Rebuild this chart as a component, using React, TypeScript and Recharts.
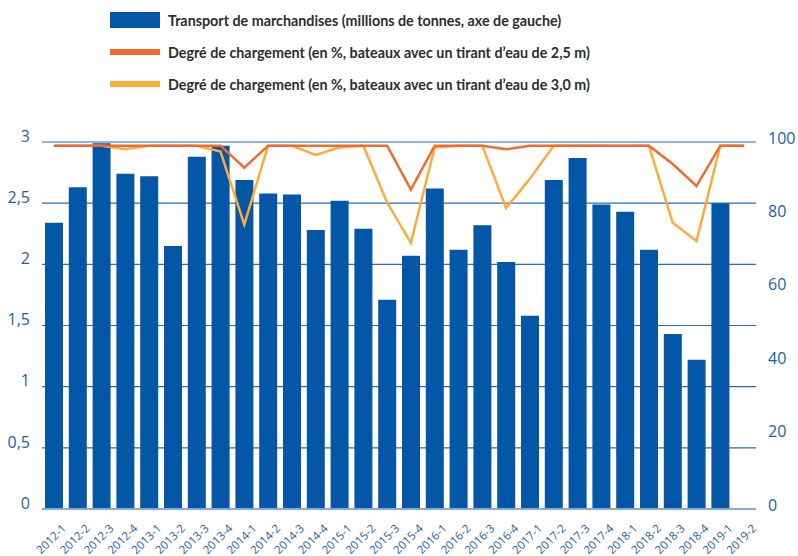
import React from 'react';
import { ComposedChart, Bar, Line, XAxis, YAxis, CartesianGrid } from 'recharts';

const quarters = [
  '2012-1', '2012-2', '2012-3', '2012-4',
  '2013-1', '2013-2', '2013-3', '2013-4',
  '2014-1', '2014-2', '2014-3', '2014-4',
  '2015-1', '2015-2', '2015-3', '2015-4',
  '2016-1', '2016-2', '2016-3', '2016-4',
  '2017-1', '2017-2', '2017-3', '2017-4',
  '2018-1', '2018-2', '2018-3', '2018-4',
  '2019-1', '2019-2',
];

// millions de tonnes (axe de gauche)
const transport = [
  2.34, 2.63, 2.99, 2.74,
  2.72, 2.15, 2.88, 2.97,
  2.69, 2.58, 2.57, 2.28,
  2.52, 2.29, 1.71, 2.07,
  2.62, 2.12, 2.32, 2.02,
  1.58, 2.69, 2.87, 2.49,
  2.43, 2.12, 1.43, 1.22,
  2.5, null,
];

// degré de chargement, tirant d'eau 2,5 m
const charge25 = [
  99, 99, 99, 99,
  99, 99, 99, 99,
  93, 99, 99, 99,
  99, 99, 99, 87,
  99, 99, 99, 98,
  99, 99, 99, 99,
  99, 99, 94, 88,
  99, 99,
];

// degré de chargement, tirant d'eau 3,0 m
const charge30 = [
  99, 99, 99, 98,
  99, 99, 99, 97.4,
  77.5, 99, 99, 96.5,
  98.5, 99, 83.5, 72.5,
  98.5, 99, 99, 82,
  90, 99, 99, 99,
  99, 99, 78, 73,
  99, 99,
];

const leftTicks = [0, 0.5, 1, 1.5, 2, 2.5, 3];
const rightTicks = [0, 20, 40, 60, 80, 100];

const legendItems = [
  { label: 'Transport de marchandises (millions de tonnes, axe de gauche)', color: '#0457a7', kind: 'bar' },
  { label: 'Degré de chargement (en %, bateaux avec un tirant d\u2019eau de 2,5 m)', color: '#f26b2e', kind: 'line' },
  { label: 'Degré de chargement (en %, bateaux avec un tirant d\u2019eau de 3,0 m)', color: '#fbac3a', kind: 'line' },
];

const data = quarters.map((q, i) => ({
  name: q,
  transport: transport[i],
  c25: charge25[i],
  c30: charge30[i],
}));

const BLUE_TEXT = '#1c5fa8';

const XTick = (props: any) => {
  const { x, y, payload } = props;
  const tx = x + 13;
  const ty = y + 12;
  return (
    <text
      x={tx}
      y={ty}
      transform={`rotate(-45, ${tx}, ${ty})`}
      textAnchor="end"
      fontSize={11.5}
      fill={BLUE_TEXT}
      fontFamily="Open Sans, sans-serif"
    >
      {payload.value}
    </text>
  );
};

export default function App() {
  return (
    <div style={{ position: 'absolute', left: 0, top: 0, width: 798, height: 556, background: '#fff' }}>
      <div style={{ position: 'absolute', left: 110, top: 4, fontFamily: 'Lato, sans-serif', fontWeight: 700, fontSize: 14.3, color: '#2d2d2d' }}>
        {legendItems.map((it) => (
          <div key={it.label} style={{ display: 'flex', alignItems: 'center', height: 32 }}>
            <div
              style={{
                width: 50,
                height: it.kind === 'bar' ? 16 : 6,
                background: it.color,
                marginRight: 8,
              }}
            />
            <span>{it.label}</span>
          </div>
        ))}
      </div>
      <ComposedChart
        width={798}
        height={556}
        data={data}
        margin={{ top: 142, right: 0, bottom: 0, left: 0 }}
        barSize={18}
      >
        <CartesianGrid horizontal vertical={false} stroke="#2a6cb6" strokeWidth={1.2} yAxisId="left" />
        <XAxis
          dataKey="name"
          interval={0}
          height={47}
          tickLine={false}
          axisLine={{ stroke: '#86aad6', strokeWidth: 2 }}
          tick={<XTick />}
        />
        <YAxis
          yAxisId="left"
          domain={[0, 3]}
          ticks={leftTicks}
          width={42}
          axisLine={false}
          tickLine={false}
          tickFormatter={(v: number) => String(v).replace('.', ',')}
          tick={{ fill: BLUE_TEXT, fontSize: 16, fontFamily: 'Open Sans, sans-serif', dy: -6 }}
          tickMargin={6}
        />
        <YAxis
          yAxisId="right"
          orientation="right"
          domain={[0, 100]}
          ticks={rightTicks}
          width={42}
          axisLine={false}
          tickLine={false}
          tick={{ fill: BLUE_TEXT, fontSize: 16, fontFamily: 'Open Sans, sans-serif', textAnchor: 'start', dy: -4 }}
          tickMargin={6}
        />
        <Bar yAxisId="left" dataKey="transport" fill="#0457a7" isAnimationActive={false} />
        <Line
          yAxisId="right"
          dataKey="c30"
          stroke="#fbac3a"
          strokeWidth={2.5}
          dot={false}
          type="linear"
          isAnimationActive={false}
        />
        <Line
          yAxisId="right"
          dataKey="c25"
          stroke="#f26b2e"
          strokeWidth={2.5}
          dot={false}
          type="linear"
          isAnimationActive={false}
        />
      </ComposedChart>
    </div>
  );
}
